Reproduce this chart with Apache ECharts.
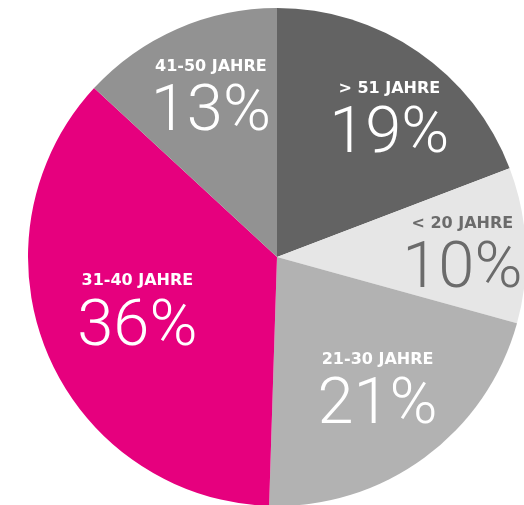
<!DOCTYPE html>
<html>
<head>
<meta charset="utf-8">
<script src="https://cdn.jsdelivr.net/npm/echarts@6/dist/echarts.min.js"></script>
<style>
  html, body { margin: 0; padding: 0; background: #fff; }
  #pie { width: 524px; height: 505px; }
</style>
</head>
<body>
<div id="pie"></div>
<script>
// Altersgruppen, im Uhrzeigersinn ab 12 Uhr
var ageGroups = ['> 51 JAHRE', '< 20 JAHRE', '21-30 JAHRE', '31-40 JAHRE', '41-50 JAHRE'];
var shares = [19, 10, 21, 36, 13];
var sliceColors = ['#636363', '#e6e6e6', '#b2b2b2', '#e6007e', '#929292'];
var textColors = ['#ffffff', '#6b6b6b', '#ffffff', '#ffffff', '#ffffff'];
// kleine Verschiebung der Beschriftungen
var labelShiftX = [40, 58, 25, -22, -15];
var labelShiftY = [-27, 9, 36, 11, -37];

var pieData = [];
for (var i = 0; i < ageGroups.length; i++) {
    pieData.push({
        name: ageGroups[i],
        value: shares[i],
        itemStyle: { color: sliceColors[i] },
        label: { color: textColors[i] }
    });
}

var chart = echarts.init(document.getElementById('pie'));
var option = {
    animation: false,
    backgroundColor: '#ffffff',
    series: [
        {
            type: 'pie',
            center: [277, 257],
            radius: 249,
            startAngle: 90,
            clockwise: true,
            avoidLabelOverlap: false,
            data: pieData,
            label: {
                show: true,
                position: 'inside',
                rotate: 0,
                formatter: '{t|{b}}\n{p|{c}%}',
                rich: {
                    t: {
                        fontFamily: 'DejaVu Sans',
                        fontWeight: 'bold',
                        fontSize: 16,
                        lineHeight: 22
                    },
                    p: {
                        fontFamily: 'Roboto',
                        fontWeight: 300,
                        fontSize: 65,
                        lineHeight: 72
                    }
                }
            },
            labelLine: { show: false },
            labelLayout: function (params) {
                return {
                    dx: labelShiftX[params.dataIndex],
                    dy: labelShiftY[params.dataIndex]
                };
            },
            emphasis: { disabled: true }
        }
    ]
};
chart.setOption(option);
</script>
</body>
</html>
